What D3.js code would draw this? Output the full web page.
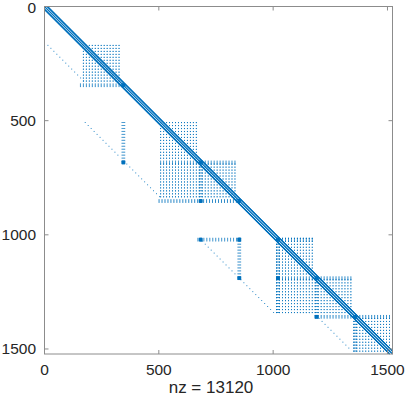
<!DOCTYPE html>
<html>
<head>
<meta charset="utf-8">
<script src="https://cdn.jsdelivr.net/npm/d3@7"></script>
<style>
  body { margin: 0; background: #fff; }
  svg text { font-family: "Liberation Sans", Arial, sans-serif; fill: #262626; }
</style>
</head>
<body>
<div id="canvas"></div>
<script>
// matrix size and nonzero count (spy plot)
const n = 1521;
const nz = 13120;
const ticks = [0, 500, 1000, 1500];

// band around the main diagonal: column offsets
const bandOffsets = [-13, -12, 0, 12, 13];

// dotted grid regions [rowStart, rowEnd, colStart, colEnd]
const gridBlocks = [
  [169, 338, 169, 338],
  [507, 676, 507, 676],
  [689, 845, 507, 845],
  [1014, 1183, 1014, 1183],
  [1196, 1352, 1014, 1352],
  [1365, 1521, 1352, 1521]
];

// 13-row strips [row, colStart, colEnd]
const rowStrips = [
  [338, 156, 351],
  [676, 507, 845],
  [845, 500, 858],
  [1014, 670, 858],
  [1014, 1014, 1183],
  [1183, 1014, 1352],
  [1352, 1183, 1521]
];

// 13-column strips [col, rowStart, rowEnd]
const colStrips = [
  [338, 507, 689],
  [676, 689, 845],
  [845, 1014, 1196],
  [1014, 1014, 1352],
  [1183, 1196, 1365],
  [1352, 1365, 1521]
];

// dense 13x13 blocks [row, col]
const denseBlocks = [
  [338, 338], [676, 338], [676, 676], [845, 676], [845, 845],
  [1014, 676], [1014, 845], [1183, 845], [1014, 1014],
  [1183, 1014], [1183, 1183], [1352, 1183], [1352, 1352]
];

// dotted couplings, step 13 [rowStart, colStart, count]
const diagLinks = [
  [169, 14, 13],
  [507, 177, 12],
  [689, 359, 12],
  [1027, 689, 12],
  [1196, 858, 12],
  [1365, 1200, 11]
];

const step = 13;
const gridRows = [0, 1];
const stripDepth = [0, 4, 8, 12];

(function render(){
  const w = 407, h = 397;
  const svg = d3.select("#canvas").append("svg")
    .attr("width", w).attr("height", h);

  const x = d3.scaleLinear().domain([0, n + 1]).range([44.5, 392.5]);
  const y = d3.scaleLinear().domain([0, n + 1]).range([6.5, 354]);

  // collect nonzeros (0-based row, col)
  let pts = [];
  function add(r, c){ if (r >= 0 && r < n && c >= 0 && c < n) pts.push([r, c]); }

  for (let i = 0; i < n; i++) bandOffsets.forEach(o => add(i, i + o));
  gridBlocks.forEach(g => {
    for (let r = g[0]; r < g[1]; r += step)
      for (let c = g[2]; c < g[3]; c += step)
        gridRows.forEach(k => add(r + k, c));
  });
  rowStrips.forEach(s => {
    for (let c = s[1]; c < s[2]; c += step)
      stripDepth.forEach(k => add(s[0] + k, c));
  });
  colStrips.forEach(s => {
    for (let r = s[1]; r < s[2]; r += step)
      stripDepth.forEach(k => add(r, s[0] + k));
  });
  denseBlocks.forEach(b => {
    for (let i = 0; i < step; i += 2)
      for (let j = 0; j < step; j += 2) add(b[0] + i, b[1] + j);
  });
  diagLinks.forEach(d => {
    for (let k = 0; k < d[2]; k++) add(d[0] + k * step, d[1] + k * step);
  });

  const ms = 0.9;
  svg.append("g").selectAll("rect")
    .data(pts)
    .enter().append("rect")
      .attr("x", d => x(d[1] + 1) - ms / 2)
      .attr("y", d => y(d[0] + 1) - ms / 2)
      .attr("width", ms)
      .attr("height", ms)
      .attr("fill", "#0072BD");

  // box and inward ticks
  const axisColor = "#8c8c8c";
  const frame = svg.append("g").attr("stroke", axisColor).attr("fill", "none");
  frame.append("rect")
    .attr("x", x(0)).attr("y", y(0))
    .attr("width", x(n + 1) - x(0)).attr("height", y(n + 1) - y(0));
  const tl = 4;
  ticks.forEach(t => {
    frame.append("line").attr("x1", x(t)).attr("x2", x(t)).attr("y1", y(n + 1)).attr("y2", y(n + 1) - tl);
    frame.append("line").attr("x1", x(t)).attr("x2", x(t)).attr("y1", y(0)).attr("y2", y(0) + tl);
    frame.append("line").attr("y1", y(t)).attr("y2", y(t)).attr("x1", x(0)).attr("x2", x(0) + tl);
    frame.append("line").attr("y1", y(t)).attr("y2", y(t)).attr("x1", x(n + 1)).attr("x2", x(n + 1) - tl);
  });

  svg.append("g").selectAll("text.xt").data(ticks).enter().append("text")
    .attr("x", d => x(d)).attr("y", 375)
    .attr("text-anchor", "middle").style("font-size", "15.5px")
    .text(d => d);
  svg.append("g").selectAll("text.yt").data(ticks).enter().append("text")
    .attr("x", 36).attr("y", d => Math.max(y(d) + 5.5, 13))
    .attr("text-anchor", "end").style("font-size", "15.5px")
    .text(d => d);

  svg.append("text")
    .attr("x", 211).attr("y", 393)
    .attr("text-anchor", "middle").style("font-size", "17px")
    .text("nz = " + nz);
})();
</script>
</body>
</html>
